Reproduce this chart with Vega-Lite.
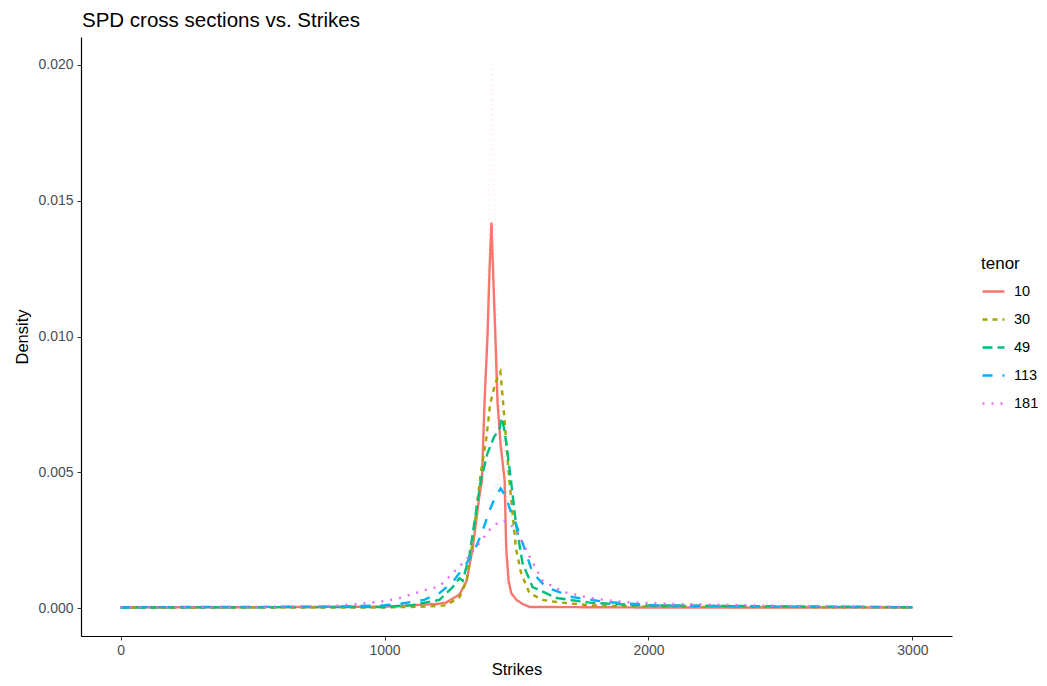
{
  "$schema": "https://vega.github.io/schema/vega-lite/v6.json",
  "width": 871,
  "height": 599,
  "autosize": {"type": "none"},
  "padding": {"left": 81, "top": 37, "right": 95, "bottom": 50},
  "background": "white",
  "config": {
    "view": {"stroke": null},
    "font": "Liberation Sans",
    "axis": {"grid": false, "domainColor": "#000000", "domainWidth": 1.2, "tickColor": "#333333", "tickSize": 4, "labelColor": "#4D4D4D", "labelFontSize": 14, "titleFontSize": 16.5, "titleFontWeight": "normal", "titleColor": "#000000", "labelFont": "Liberation Sans", "titleFont": "Liberation Sans"},
    "legend": {"titleFontSize": 17, "titleFontWeight": "normal", "labelFontSize": 14.5, "titleColor": "#000000", "labelColor": "#000000", "labelFont": "Liberation Sans", "titleFont": "Liberation Sans"}
  },
  "title": {"text": "SPD cross sections vs. Strikes", "anchor": "start", "frame": "group", "fontSize": 20.5, "fontWeight": "normal", "font": "Liberation Sans", "color": "#000000", "offset": 6, "dx": 1},
  "datasets": {
    "smooth": [
      {"strike": 0, "density": 0.00003, "tenor": "10"},
      {"strike": 500, "density": 0.00003, "tenor": "10"},
      {"strike": 1000, "density": 0.00005, "tenor": "10"},
      {"strike": 1100, "density": 0.0001, "tenor": "10"},
      {"strike": 1200, "density": 0.00015, "tenor": "10"},
      {"strike": 1233, "density": 0.0002, "tenor": "10"},
      {"strike": 1284, "density": 0.0005, "tenor": "10"},
      {"strike": 1311, "density": 0.001, "tenor": "10"},
      {"strike": 1334, "density": 0.0022, "tenor": "10"},
      {"strike": 1359, "density": 0.0041, "tenor": "10"},
      {"strike": 1369, "density": 0.0047, "tenor": "10"},
      {"strike": 1379, "density": 0.0076, "tenor": "10"},
      {"strike": 1390, "density": 0.01, "tenor": "10"},
      {"strike": 1398, "density": 0.0125, "tenor": "10"},
      {"strike": 1405, "density": 0.0142, "tenor": "10"},
      {"strike": 1412, "density": 0.0122, "tenor": "10"},
      {"strike": 1420, "density": 0.01, "tenor": "10"},
      {"strike": 1428, "density": 0.0076, "tenor": "10"},
      {"strike": 1440, "density": 0.006, "tenor": "10"},
      {"strike": 1455, "density": 0.0047, "tenor": "10"},
      {"strike": 1461, "density": 0.0022, "tenor": "10"},
      {"strike": 1470, "density": 0.001, "tenor": "10"},
      {"strike": 1480, "density": 0.00055, "tenor": "10"},
      {"strike": 1500, "density": 0.0003, "tenor": "10"},
      {"strike": 1523, "density": 0.00015, "tenor": "10"},
      {"strike": 1550, "density": 0.00004, "tenor": "10"},
      {"strike": 2000, "density": 0.00002, "tenor": "10"},
      {"strike": 3000, "density": 0.00002, "tenor": "10"},

      {"strike": 0, "density": 0.00001, "tenor": "30"},
      {"strike": 1000, "density": 0.00002, "tenor": "30"},
      {"strike": 1150, "density": 0.00005, "tenor": "30"},
      {"strike": 1233, "density": 0.0001, "tenor": "30"},
      {"strike": 1284, "density": 0.0004, "tenor": "30"},
      {"strike": 1311, "density": 0.001, "tenor": "30"},
      {"strike": 1335, "density": 0.0025, "tenor": "30"},
      {"strike": 1350, "density": 0.0038, "tenor": "30"},
      {"strike": 1365, "density": 0.005, "tenor": "30"},
      {"strike": 1385, "density": 0.0062, "tenor": "30"},
      {"strike": 1400, "density": 0.0075, "tenor": "30"},
      {"strike": 1420, "density": 0.0083, "tenor": "30"},
      {"strike": 1439, "density": 0.0087, "tenor": "30"},
      {"strike": 1450, "density": 0.0075, "tenor": "30"},
      {"strike": 1462, "density": 0.006, "tenor": "30"},
      {"strike": 1473, "density": 0.0047, "tenor": "30"},
      {"strike": 1485, "density": 0.0035, "tenor": "30"},
      {"strike": 1498, "density": 0.0022, "tenor": "30"},
      {"strike": 1517, "density": 0.0013, "tenor": "30"},
      {"strike": 1549, "density": 0.00055, "tenor": "30"},
      {"strike": 1600, "density": 0.0003, "tenor": "30"},
      {"strike": 1652, "density": 0.00022, "tenor": "30"},
      {"strike": 1777, "density": 0.0001, "tenor": "30"},
      {"strike": 2000, "density": 0.00005, "tenor": "30"},
      {"strike": 3000, "density": 0.00002, "tenor": "30"},

      {"strike": 0, "density": 0.00002, "tenor": "49"},
      {"strike": 1000, "density": 0.00004, "tenor": "49"},
      {"strike": 1100, "density": 0.0001, "tenor": "49"},
      {"strike": 1208, "density": 0.0003, "tenor": "49"},
      {"strike": 1258, "density": 0.00077, "tenor": "49"},
      {"strike": 1284, "density": 0.0011, "tenor": "49"},
      {"strike": 1296, "density": 0.001, "tenor": "49"},
      {"strike": 1321, "density": 0.0019, "tenor": "49"},
      {"strike": 1346, "density": 0.0035, "tenor": "49"},
      {"strike": 1365, "density": 0.0047, "tenor": "49"},
      {"strike": 1390, "density": 0.0057, "tenor": "49"},
      {"strike": 1415, "density": 0.0063, "tenor": "49"},
      {"strike": 1435, "density": 0.0066, "tenor": "49"},
      {"strike": 1445, "density": 0.007, "tenor": "49"},
      {"strike": 1455, "density": 0.0065, "tenor": "49"},
      {"strike": 1465, "density": 0.0058, "tenor": "49"},
      {"strike": 1479, "density": 0.0047, "tenor": "49"},
      {"strike": 1498, "density": 0.0031, "tenor": "49"},
      {"strike": 1523, "density": 0.00165, "tenor": "49"},
      {"strike": 1561, "density": 0.00077, "tenor": "49"},
      {"strike": 1652, "density": 0.00037, "tenor": "49"},
      {"strike": 1777, "density": 0.0002, "tenor": "49"},
      {"strike": 1966, "density": 0.0001, "tenor": "49"},
      {"strike": 3000, "density": 0.00003, "tenor": "49"},

      {"strike": 0, "density": 0.00003, "tenor": "113"},
      {"strike": 800, "density": 0.00005, "tenor": "113"},
      {"strike": 1000, "density": 0.0001, "tenor": "113"},
      {"strike": 1057, "density": 0.00015, "tenor": "113"},
      {"strike": 1150, "density": 0.0003, "tenor": "113"},
      {"strike": 1208, "density": 0.00055, "tenor": "113"},
      {"strike": 1258, "density": 0.00095, "tenor": "113"},
      {"strike": 1311, "density": 0.00165, "tenor": "113"},
      {"strike": 1340, "density": 0.0021, "tenor": "113"},
      {"strike": 1370, "density": 0.0028, "tenor": "113"},
      {"strike": 1398, "density": 0.0036, "tenor": "113"},
      {"strike": 1420, "density": 0.0041, "tenor": "113"},
      {"strike": 1440, "density": 0.0044, "tenor": "113"},
      {"strike": 1460, "density": 0.0041, "tenor": "113"},
      {"strike": 1473, "density": 0.0037, "tenor": "113"},
      {"strike": 1498, "density": 0.0031, "tenor": "113"},
      {"strike": 1523, "density": 0.0024, "tenor": "113"},
      {"strike": 1561, "density": 0.0013, "tenor": "113"},
      {"strike": 1612, "density": 0.00077, "tenor": "113"},
      {"strike": 1713, "density": 0.0004, "tenor": "113"},
      {"strike": 1840, "density": 0.00022, "tenor": "113"},
      {"strike": 2030, "density": 0.0001, "tenor": "113"},
      {"strike": 2500, "density": 0.00005, "tenor": "113"},
      {"strike": 3000, "density": 0.00003, "tenor": "113"},

      {"strike": 0, "density": 0.00003, "tenor": "181"},
      {"strike": 500, "density": 0.00004, "tenor": "181"},
      {"strike": 800, "density": 0.00007, "tenor": "181"},
      {"strike": 900, "density": 0.00015, "tenor": "181"},
      {"strike": 1000, "density": 0.00025, "tenor": "181"},
      {"strike": 1057, "density": 0.00037, "tenor": "181"},
      {"strike": 1100, "density": 0.0005, "tenor": "181"},
      {"strike": 1150, "density": 0.00065, "tenor": "181"},
      {"strike": 1208, "density": 0.0008, "tenor": "181"},
      {"strike": 1250, "density": 0.0012, "tenor": "181"},
      {"strike": 1311, "density": 0.0018, "tenor": "181"},
      {"strike": 1360, "density": 0.0024, "tenor": "181"},
      {"strike": 1400, "density": 0.0029, "tenor": "181"},
      {"strike": 1436, "density": 0.0032, "tenor": "181"},
      {"strike": 1460, "density": 0.0032, "tenor": "181"},
      {"strike": 1498, "density": 0.0029, "tenor": "181"},
      {"strike": 1549, "density": 0.0019, "tenor": "181"},
      {"strike": 1599, "density": 0.001, "tenor": "181"},
      {"strike": 1675, "density": 0.0006, "tenor": "181"},
      {"strike": 1777, "density": 0.00037, "tenor": "181"},
      {"strike": 1902, "density": 0.00022, "tenor": "181"},
      {"strike": 2091, "density": 0.00015, "tenor": "181"},
      {"strike": 2500, "density": 0.00008, "tenor": "181"},
      {"strike": 3000, "density": 0.00004, "tenor": "181"}
    ],
    "raw": [
      {"strike": 1370, "density": 0.006, "tenor": "10"},
      {"strike": 1390, "density": 0.012, "tenor": "10"},
      {"strike": 1405, "density": 0.0201, "tenor": "10"},
      {"strike": 1420, "density": 0.013, "tenor": "10"},
      {"strike": 1440, "density": 0.004, "tenor": "10"},
      {"strike": 1460, "density": 0.0008, "tenor": "10"},
      {"strike": 1380, "density": 0.005, "tenor": "30"},
      {"strike": 1410, "density": 0.0085, "tenor": "30"},
      {"strike": 1425, "density": 0.0097, "tenor": "30"},
      {"strike": 1445, "density": 0.007, "tenor": "30"},
      {"strike": 1470, "density": 0.0035, "tenor": "30"},
      {"strike": 1390, "density": 0.005, "tenor": "49"},
      {"strike": 1420, "density": 0.0068, "tenor": "49"},
      {"strike": 1435, "density": 0.0075, "tenor": "49"},
      {"strike": 1460, "density": 0.0055, "tenor": "49"},
      {"strike": 1490, "density": 0.0028, "tenor": "49"},
      {"strike": 1390, "density": 0.0038, "tenor": "113"},
      {"strike": 1425, "density": 0.0046, "tenor": "113"},
      {"strike": 1460, "density": 0.0042, "tenor": "113"},
      {"strike": 1500, "density": 0.0026, "tenor": "113"}
    ]
  },
  "layer": [
    {
      "data": {"name": "raw"},
      "mark": {"type": "line", "strokeWidth": 1.5, "opacity": 0.2, "strokeDash": [1, 4], "clip": true},
      "encoding": {
        "x": {"field": "strike", "type": "quantitative"},
        "y": {"field": "density", "type": "quantitative"},
        "color": {"field": "tenor", "type": "nominal"},
        "detail": {"field": "tenor", "type": "nominal"}
      }
    },
    {
      "data": {"name": "smooth"},
      "mark": {"type": "line", "strokeWidth": 2.4, "clip": true},
      "encoding": {
        "x": {"field": "strike", "type": "quantitative", "title": "Strikes",
              "scale": {"domain": [-150, 3150], "nice": false, "zero": false},
              "axis": {"values": [0, 1000, 2000, 3000], "format": "d", "titlePadding": 4, "labelPadding": 3}},
        "y": {"field": "density", "type": "quantitative", "title": "Density",
              "scale": {"domain": [-0.00103, 0.02103], "nice": false, "zero": false},
              "axis": {"values": [0, 0.005, 0.01, 0.015, 0.02], "format": ".3f", "titlePadding": 7, "labelPadding": 4}},
        "color": {"field": "tenor", "type": "nominal", "title": "tenor",
                  "scale": {"domain": ["10", "30", "49", "113", "181"], "range": ["#F8766D", "#A3A500", "#00BF7D", "#00B0F6", "#E76BF3"]},
                  "legend": {"orient": "none", "legendX": 900, "legendY": 219, "symbolType": "stroke", "symbolStrokeWidth": 2.4, "symbolOpacity": 1, "symbolSize": 484, "rowPadding": 9, "titlePadding": 6, "labelOffset": 8,
                             "encode": {"symbols": {"update": {"opacity": {"value": 1}, "strokeOpacity": {"value": 1}}}}}},
        "strokeDash": {"field": "tenor", "type": "nominal", "title": "tenor",
                  "scale": {"domain": ["10", "30", "49", "113", "181"], "range": [[1, 0], [5, 5], [10, 5], [10, 10], [2, 7]]},
                  "legend": {"orient": "none", "legendX": 900, "legendY": 219, "symbolType": "stroke", "symbolStrokeWidth": 2.4, "symbolOpacity": 1, "symbolSize": 484, "rowPadding": 9, "titlePadding": 6, "labelOffset": 8,
                             "encode": {"symbols": {"update": {"opacity": {"value": 1}, "strokeOpacity": {"value": 1}}}}}}
      }
    }
  ]
}
